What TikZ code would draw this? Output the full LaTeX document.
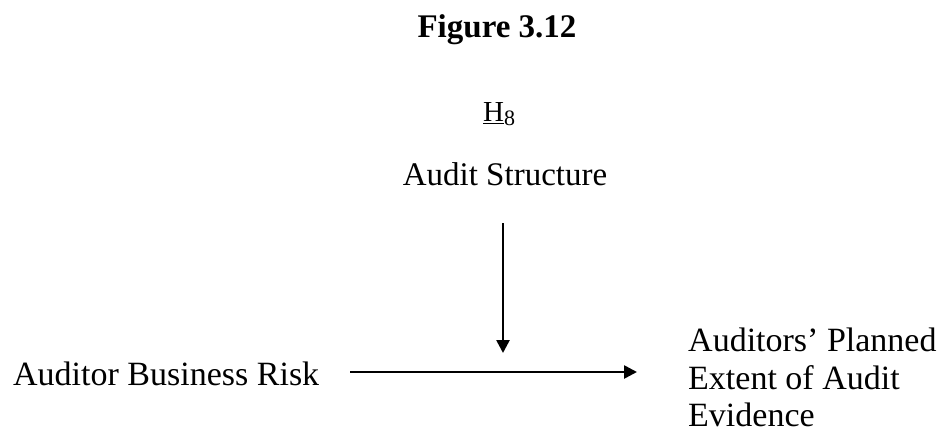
\documentclass[tikz,border=0pt]{standalone}
\usepackage{fontspec}
\setmainfont{Liberation Serif}
\usetikzlibrary{arrows.meta}
\begin{document}
\begin{tikzpicture}[x=1pt,y=-1pt,
  lbl/.style={inner sep=0pt,font=\fontsize{34}{37.5}\selectfont},
  arr/.style={line width=2.6pt,-{Triangle[length=13pt,width=13pt]}}]
\useasboundingbox (0,0) rectangle (942,433);
% heading
\node[inner sep=0pt,anchor=base,font=\fontsize{33}{38}\selectfont\bfseries] (title) at (497,38) {Figure 3.12};
\node[inner sep=0pt,anchor=base west,font=\fontsize{29}{32}\selectfont] (hyp) at (483,122) {\underline{H}\raisebox{-0.25ex}{\fontsize{22}{24}\selectfont 8}};
% variables
\node[lbl,anchor=base,font=\fontsize{33}{38}\selectfont] (structure) at (505,185) {Audit Structure};
\node[lbl,anchor=base west] (risk) at (13,385) {Auditor Business Risk};
\node[lbl,anchor=north west,align=left] (extent) at (688,328) {Auditors' Planned\\Extent of Audit\\Evidence};
% connectors
\coordinate (hstart) at (350,372);
\coordinate (hend) at (637,372);
\coordinate (vstart) at (503,223);
\coordinate (vend) at (503,353);
\draw[arr] (hstart) -- (hend);
\draw[arr] (vstart) -- (vend);
\end{tikzpicture}
\end{document}
